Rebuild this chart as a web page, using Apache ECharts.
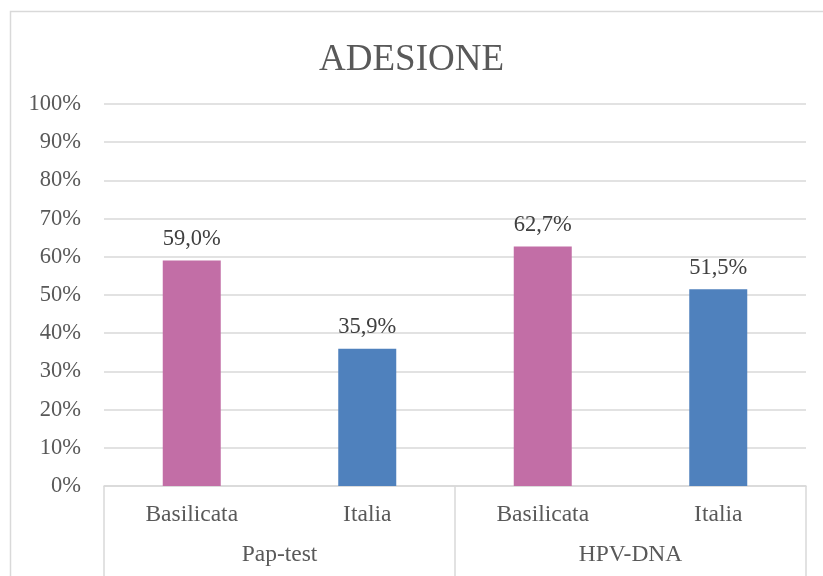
<!DOCTYPE html>
<html><head><meta charset="utf-8">
<script src="https://cdn.jsdelivr.net/npm/echarts@6/dist/echarts.min.js"></script>
<style>html,body{margin:0;padding:0;background:#fff}#c{width:823px;height:576px}</style>
</head><body><div id="c"></div>
<script>
const categories = ['Basilicata', 'Italia', 'Basilicata', 'Italia'];
const groups = ['Pap-test', 'HPV-DNA'];
const values = [59.0, 35.9, 62.7, 51.5];
const barColors = ['#C26EA6', '#4F81BD', '#C26EA6', '#4F81BD'];
const yTicks = [0, 10, 20, 30, 40, 50, 60, 70, 80, 90, 100];

const chart = echarts.init(document.getElementById('c'));
const font = 'Liberation Serif';
chart.setOption({
  animation: false,
  textStyle: { fontFamily: font },
  title: {
    text: 'ADESIONE', left: 'center', top: 37,
    textStyle: { fontFamily: font, fontSize: 37, fontWeight: 'normal', color: '#595959' }
  },
  graphic: [{
    type: 'rect', left: 8, top: 9,
    shape: { x: 0, y: 0, width: 830, height: 600 },
    style: { fill: 'none', stroke: '#d9d9d9', lineWidth: 1.5 }, silent: true
  }],
  grid: { left: 104, right: 17, top: 104, bottom: 90 },
  xAxis: [{
    type: 'category', data: categories, position: 'bottom',
    axisLine: { show: true, lineStyle: { color: '#d9d9d9', width: 1.5 } },
    axisTick: { show: false },
    axisLabel: { color: '#595959', fontSize: 23.5, fontFamily: font, margin: 17 }
  }, {
    type: 'category', data: groups, position: 'bottom',
    axisLine: { show: false },
    axisTick: { show: true, length: 100, lineStyle: { color: '#d9d9d9', width: 1.5 } },
    axisLabel: { color: '#595959', fontSize: 23.5, fontFamily: font, margin: 57 }
  }],
  yAxis: {
    type: 'value', min: 0, max: 100, interval: 10,
    axisLine: { show: false }, axisTick: { show: false },
    splitLine: { lineStyle: { color: '#d9d9d9', width: 1.5 } },
    axisLabel: { color: '#595959', fontSize: 22.5, fontFamily: font, margin: 23,
      formatter: v => yTicks.includes(v) ? v + '%' : '' }
  },
  series: [{
    type: 'bar', xAxisIndex: 0, barWidth: 58,
    data: values.map((v, i) => ({ value: v, itemStyle: { color: barColors[i] } })),
    label: {
      show: true, position: 'top', distance: 10, color: '#404040', fontSize: 22.5, fontFamily: font,
      formatter: p => p.value.toFixed(1).replace('.', ',') + '%'
    }
  }]
});
</script></body></html>
